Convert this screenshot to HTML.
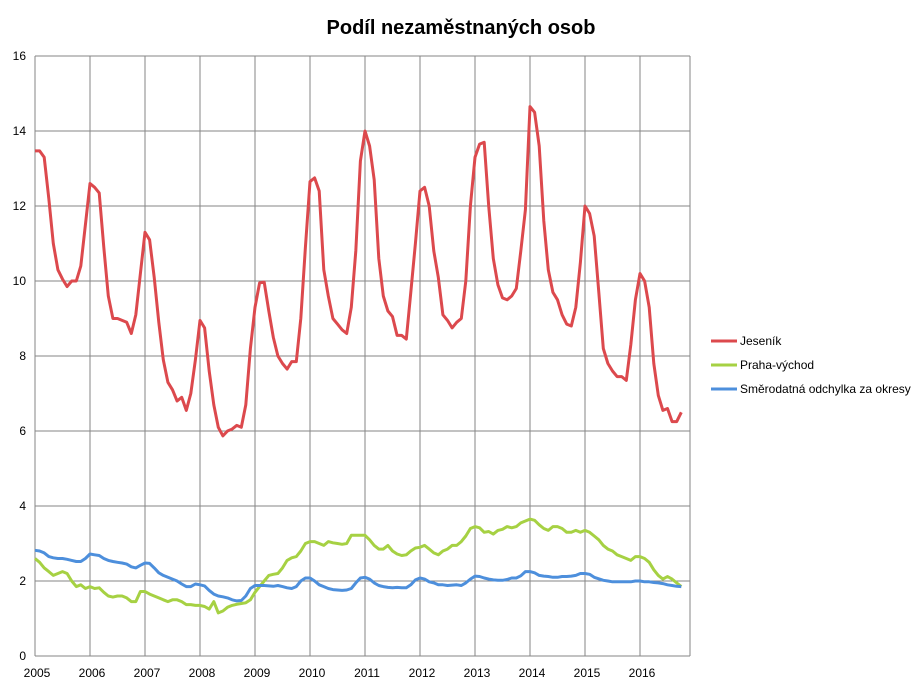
<!DOCTYPE html>
<html><head><meta charset="utf-8"><style>
body{margin:0;background:#fff;font-family:"Liberation Sans",sans-serif}
svg{display:block}
</style></head><body>
<svg width="924" height="690" xmlns="http://www.w3.org/2000/svg">
<rect width="924" height="690" fill="#fff"/>
<text x="461" y="34" text-anchor="middle" font-family="Liberation Sans, sans-serif" font-size="20" font-weight="bold">Podíl nezaměstnaných osob</text>
<g id="grid"></g>
<g id="series"></g>
<g id="legend"></g>
</svg>
<script>
const years=["2005","2006","2007","2008","2009","2010","2011","2012","2013","2014","2015","2016"];
const yTicks=[0,2,4,6,8,10,12,14,16];
const seriesNames=["Jeseník","Praha-východ","Směrodatná odchylka za okresy"];
const jesenik=[13.47,13.47,13.3,12.2,11.0,10.3,10.05,9.85,10.0,10.0,10.4,11.5,
12.6,12.5,12.35,10.9,9.6,9.0,9.0,8.95,8.9,8.6,9.1,10.2,
11.3,11.1,10.1,8.9,7.9,7.3,7.1,6.8,6.9,6.55,7.0,7.9,
8.95,8.75,7.6,6.7,6.1,5.87,6.0,6.05,6.15,6.1,6.7,8.2,
9.3,9.95,9.97,9.2,8.5,8.0,7.8,7.65,7.85,7.85,9.0,10.9,
12.65,12.75,12.4,10.3,9.6,9.0,8.85,8.7,8.6,9.3,10.8,13.2,
14.0,13.6,12.7,10.6,9.6,9.2,9.05,8.55,8.55,8.45,9.7,11.0,
12.4,12.5,12.0,10.8,10.1,9.1,8.95,8.75,8.9,9.0,10.0,12.0,
13.3,13.65,13.7,12.0,10.6,9.9,9.55,9.5,9.6,9.8,10.8,11.9,
14.65,14.5,13.6,11.6,10.3,9.7,9.5,9.1,8.85,8.8,9.3,10.5,
12.0,11.8,11.2,9.7,8.2,7.8,7.6,7.45,7.45,7.35,8.3,9.5,
10.2,10.0,9.3,7.8,6.95,6.55,6.6,6.25,6.25,6.5];
const praha=[2.6,2.5,2.35,2.25,2.15,2.2,2.25,2.2,2.0,1.85,1.9,1.8,
1.85,1.8,1.82,1.7,1.6,1.57,1.6,1.6,1.55,1.45,1.45,1.72,
1.72,1.65,1.6,1.55,1.5,1.45,1.5,1.5,1.45,1.37,1.37,1.35,
1.35,1.32,1.25,1.45,1.15,1.2,1.3,1.35,1.38,1.4,1.42,1.5,
1.7,1.85,2.0,2.15,2.18,2.2,2.35,2.55,2.62,2.65,2.8,3.0,
3.05,3.05,3.0,2.95,3.05,3.02,3.0,2.98,3.0,3.22,3.22,3.22,
3.22,3.1,2.95,2.85,2.85,2.95,2.8,2.72,2.68,2.7,2.8,2.88,
2.9,2.95,2.85,2.75,2.7,2.8,2.85,2.95,2.95,3.05,3.2,3.4,
3.45,3.42,3.3,3.32,3.25,3.35,3.38,3.45,3.42,3.45,3.55,3.6,
3.65,3.62,3.5,3.4,3.35,3.45,3.45,3.4,3.3,3.3,3.35,3.3,
3.35,3.3,3.2,3.1,2.95,2.85,2.8,2.7,2.65,2.6,2.55,2.65,
2.65,2.6,2.5,2.3,2.15,2.05,2.12,2.05,1.95,1.85];
const odchylka=[2.82,2.8,2.75,2.65,2.62,2.6,2.6,2.58,2.55,2.52,2.52,2.6,
2.72,2.7,2.68,2.6,2.55,2.52,2.5,2.48,2.45,2.38,2.35,2.42,
2.48,2.47,2.35,2.22,2.15,2.1,2.05,2.0,1.92,1.85,1.85,1.92,
1.9,1.87,1.75,1.65,1.6,1.58,1.55,1.5,1.47,1.48,1.6,1.8,
1.88,1.88,1.88,1.87,1.86,1.88,1.85,1.82,1.8,1.85,2.0,2.08,
2.08,2.0,1.9,1.85,1.8,1.77,1.76,1.75,1.76,1.8,1.95,2.08,
2.1,2.05,1.95,1.88,1.85,1.83,1.82,1.83,1.82,1.82,1.9,2.03,
2.08,2.05,1.98,1.95,1.9,1.9,1.88,1.89,1.9,1.88,1.95,2.05,
2.13,2.12,2.08,2.05,2.03,2.02,2.02,2.04,2.08,2.08,2.14,2.25,
2.25,2.22,2.15,2.13,2.12,2.1,2.1,2.12,2.12,2.13,2.15,2.2,
2.2,2.18,2.1,2.06,2.02,2.0,1.98,1.98,1.98,1.98,1.98,2.0,
2.0,1.98,1.98,1.96,1.95,1.93,1.9,1.88,1.86,1.85];
const colors=["#dc494d","#a6d143","#4d8fdc"];
const NS="http://www.w3.org/2000/svg";
const L=35,R=690,T=56,B=656,monthW=(R-L)/(years.length*12-1+1);
function xm(i){return L+i*(55/12);}
function yv(v){return B-(v/16)*(B-T);}
function mk(tag,attrs,parent){const e=document.createElementNS(NS,tag);for(const k in attrs)e.setAttribute(k,attrs[k]);parent.appendChild(e);return e;}
const grid=document.getElementById('grid');
yTicks.forEach(t=>{
 const y=yv(t);
 const l=mk('line',{x1:L,x2:R,y1:y,y2:y,stroke:'#868686','stroke-width':1},grid);
 
 
 const tx=mk('text',{x:26,y:y+4,'text-anchor':'end','font-size':12,fill:'#000'},grid);
 tx.textContent=t;
 
 
});
years.forEach((yr,i)=>{
 const x=xm(i*12);
 const l=mk('line',{x1:x,x2:x,y1:T,y2:B,stroke:'#868686','stroke-width':1},grid);
 
 
 const tx=mk('text',{x:x+2,y:677,'text-anchor':'middle','font-size':12,fill:'#000'},grid);
 tx.textContent=yr;
 
 
});
const rl=mk('line',{x1:R,x2:R,y1:T,y2:B,stroke:'#868686','stroke-width':1},grid);


const sg=document.getElementById('series');
[jesenik,praha,odchylka].forEach((d,si)=>{
 const pts=d.map((v,i)=>xm(i).toFixed(1)+','+yv(v).toFixed(1)).join(' ');
 const p=mk('polyline',{points:pts,fill:'none',stroke:colors[si],'stroke-width':3,'stroke-linejoin':'round'},sg);
 
 
});
const lg=document.getElementById('legend');
seriesNames.forEach((n,i)=>{
 const y=341+i*24;
 const l=mk('line',{x1:711,x2:737,y1:y,y2:y,stroke:colors[i],'stroke-width':3},lg);
 
 
 const tx=mk('text',{x:740,y:y+4,'font-size':12,fill:'#000'},lg);
 tx.textContent=n;
 
 
});
</script>
</body></html>
